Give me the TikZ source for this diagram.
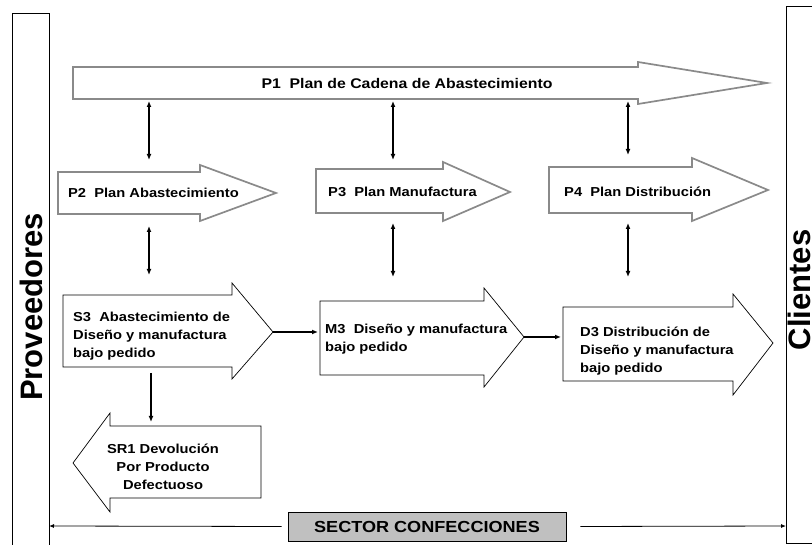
\documentclass[tikz,border=0pt]{standalone}
\usepackage{fontspec}
\setmainfont{Liberation Sans}
\newfontfamily\labfont[FakeStretch=1.13]{Liberation Sans}
\usetikzlibrary{arrows.meta}
\definecolor{planline}{HTML}{8A8A8A}
\definecolor{sectorfill}{HTML}{C0C0C0}
\tikzset{
  planarrow/.style={draw=planline, fill=white, line width=1.7pt, line join=miter},
  procarrow/.style={draw=black, fill=white, line width=0.7pt, line join=miter},
  sidebar/.style={draw=black, line width=0.9pt},
  link/.style={line width=1.3pt, {Latex[length=6pt,width=5pt]}-{Latex[length=6pt,width=5pt]}},
  flow/.style={line width=1.4pt, -{Latex[length=6pt,width=5pt]}},
  span/.style={line width=0.8pt, -{Latex[length=5pt,width=4pt]}},
  lbl/.style={font=\labfont\bfseries\fontsize{13}{18}\selectfont, inner sep=0pt, text=black},
  sidelbl/.style={font=\bfseries\fontsize{31}{31}\selectfont, inner sep=0pt, rotate=90},
}
\begin{document}
\begin{tikzpicture}[x=1pt,y=-1pt]
\useasboundingbox (0,0) rectangle (812,545);
\clip (0,0) rectangle (812,545);

% side bars
\draw[sidebar] (12,13) rectangle (49,552);
\draw[sidebar] (786,6) rectangle (840,543);
\node[sidelbl, anchor=south] (prov) at (43,307) {Proveedores};
\node[sidelbl, anchor=north] (cli) at (788,290) {Clientes};

% planning arrows
\draw[planarrow] (73,67) -- (638,67) -- (638,62) -- (767,83) -- (638,104) -- (638,99) -- (73,99) -- cycle;
\node[lbl, font=\labfont\bfseries\fontsize{14}{18}\selectfont] (p1) at (407,83) {P1~~Plan de Cadena de Abastecimiento};

\draw[planarrow] (58,172) -- (200,172) -- (200,165) -- (276,193) -- (200,221) -- (200,214) -- (58,214) -- cycle;
\node[lbl, anchor=west] (p2) at (68,193) {P2~~Plan Abastecimiento};

\draw[planarrow] (316,169) -- (443,169) -- (443,162) -- (510,192) -- (443,221) -- (443,213) -- (316,213) -- cycle;
\node[lbl, anchor=west] (p3) at (328,192) {P3~~Plan Manufactura};

\draw[planarrow] (549,167) -- (692,167) -- (692,158) -- (768,190) -- (692,221) -- (692,213) -- (549,213) -- cycle;
\node[lbl, anchor=west] (p4) at (564,192) {P4~~Plan Distribución};

% process arrows
\draw[procarrow] (63,295) -- (232,295) -- (232,283) -- (273,332) -- (232,379) -- (232,367) -- (63,367) -- cycle;
\node[lbl, anchor=west, align=left] (s3) at (73,336) {S3~~Abastecimiento de\\Diseño y manufactura\\bajo pedido};

\draw[procarrow] (320,301) -- (484,301) -- (484,288) -- (524,337) -- (484,387) -- (484,375) -- (320,375) -- cycle;
\node[lbl, anchor=west, align=left] (m3) at (325,339) {M3~~Diseño y manufactura\\bajo pedido};

\draw[procarrow] (563,307) -- (733,307) -- (733,294) -- (773,343) -- (733,395) -- (733,381) -- (563,381) -- cycle;
\node[lbl, anchor=west, align=left] (d3) at (580,351) {D3 Distribución de\\Diseño y manufactura\\bajo pedido};

\draw[procarrow] (261,426) -- (110,426) -- (110,413) -- (73,463) -- (110,512) -- (110,498) -- (261,498) -- cycle;
\node[lbl, align=center] (sr1) at (163,467) {SR1 Devolución\\Por Producto\\Defectuoso};

% sector label
\node[draw=black, fill=sectorfill, line width=0.8pt, minimum width=278pt, minimum height=29pt, inner sep=0pt,
      font=\labfont\bfseries\fontsize{16}{18}\selectfont] (sector) at (427,526.5) {SECTOR CONFECCIONES};

% connection points
\coordinate (p1a) at (149,101);  \coordinate (p2top) at (149,160);
\coordinate (p1b) at (393,101);  \coordinate (p3top) at (393,160);
\coordinate (p1c) at (628,101);  \coordinate (p4top) at (628,155);
\coordinate (p2bot) at (149,226); \coordinate (s3top) at (149,275);
\coordinate (p3bot) at (393,223); \coordinate (m3top) at (393,277);
\coordinate (p4bot) at (628,223); \coordinate (d3top) at (628,277);
\coordinate (s3tip) at (273,332); \coordinate (m3in) at (318,332);
\coordinate (m3tip) at (524,337); \coordinate (d3in) at (561,337);
\coordinate (s3bot) at (151,373); \coordinate (sr1top) at (151,422);
\coordinate (provedge) at (49,526); \coordinate (cliedge) at (786,526);

% links between planning and execution
\draw[link] (p1a) -- (p2top);
\draw[link] (p1b) -- (p3top);
\draw[link] (p1c) -- (p4top);
\draw[link] (p2bot) -- (s3top);
\draw[link] (p3bot) -- (m3top);
\draw[link] (p4bot) -- (d3top);

% material flow
\draw[flow] (s3tip) -- (m3in);
\draw[flow] (m3tip) -- (d3in);
\draw[flow] (s3bot) -- (sr1top);

% sector span
\draw[span] (sector.west) ++(-6,0) -- (provedge);
\draw[span] (sector.east) ++(14,0) -- (cliedge);
\end{tikzpicture}
\end{document}
